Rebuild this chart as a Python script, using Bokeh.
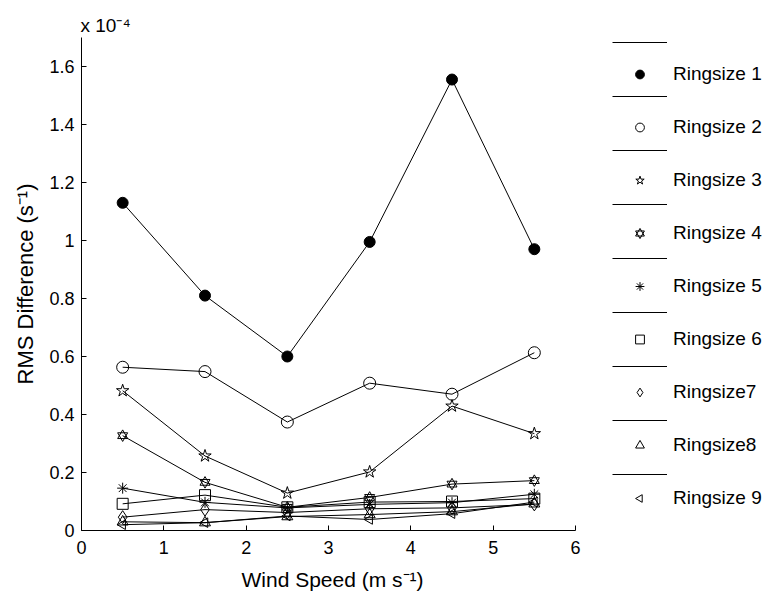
from bokeh.plotting import figure
from bokeh.models import Range1d, FixedTicker, Legend, LegendItem, Title, CustomJS
from bokeh.embed import file_html
from bokeh.resources import INLINE

# ---------------- data ----------------
wind_speed = [0.5, 1.5, 2.5, 3.5, 4.5, 5.5]

ringsize_1 = [1.130, 0.810, 0.600, 0.995, 1.555, 0.970]
ringsize_2 = [0.563, 0.548, 0.374, 0.508, 0.470, 0.613]
ringsize_3 = [0.482, 0.257, 0.129, 0.202, 0.429, 0.334]
ringsize_4 = [0.327, 0.166, 0.080, 0.114, 0.160, 0.172]
ringsize_5 = [0.146, 0.097, 0.078, 0.090, 0.096, 0.125]
ringsize_6 = [0.092, 0.122, 0.080, 0.098, 0.100, 0.110]
ringsize_7 = [0.046, 0.072, 0.062, 0.075, 0.078, 0.090]
ringsize_8 = [0.030, 0.027, 0.048, 0.055, 0.065, 0.092]
ringsize_9 = [0.020, 0.027, 0.050, 0.038, 0.058, 0.098]

series_labels = ["Ringsize 1", "Ringsize 2", "Ringsize 3", "Ringsize 4", "Ringsize 5",
                 "Ringsize 6", "Ringsize7", "Ringsize8", "Ringsize 9"]

x_ticks = [0, 1, 2, 3, 4, 5, 6]
y_ticks = [0, 0.2, 0.4, 0.6, 0.8, 1.0, 1.2, 1.4, 1.6]
y_tick_labels = ["0", "0.2", "0.4", "0.6", "0.8", "1", "1.2", "1.4", "1.6"]

x_label = "Wind Speed (m s\u207b\u00b9)"
y_label = "RMS Difference (s\u207b\u00b9)"
exponent_label = "x 10\u207b\u2074"

FONT = "Liberation Sans"

# x data spans 0..6; the frame is widened to the right to host the legend
X_MAX, Y_MAX = 6, 1.7
FW, FH = 688, 493
x_px = 494 / X_MAX

# ---------------- figure ----------------
p = figure(frame_width=FW, frame_height=FH,
           min_border_left=81, min_border_right=0, min_border_top=37, min_border_bottom=0,
           x_range=Range1d(0, FW / x_px), y_range=Range1d(0, Y_MAX),
           output_backend="svg", toolbar_location=None)
p.outline_line_color = None
p.grid.visible = False
p.background_fill_color = "white"
p.border_fill_color = "white"

for ax in (p.xaxis[0], p.yaxis[0]):
    ax.axis_line_color = "black"
    ax.axis_line_width = 1
    ax.major_tick_in = 5
    ax.major_tick_out = 0
    ax.minor_tick_line_color = None
    ax.major_tick_line_color = "black"
    ax.major_label_text_font = FONT
    ax.major_label_text_font_size = "18px"
    ax.major_label_text_color = "black"
    ax.axis_label_text_font = FONT
    ax.axis_label_text_font_style = "normal"
    ax.axis_label_text_color = "black"

p.xaxis.bounds = (0, X_MAX)
p.xaxis.ticker = FixedTicker(ticks=x_ticks)
p.yaxis.ticker = FixedTicker(ticks=y_ticks)
p.yaxis.major_label_overrides = {t: s for t, s in zip(y_ticks, y_tick_labels)}
p.xaxis.major_label_standoff = 10
p.yaxis.major_label_standoff = 7
p.yaxis.axis_label = y_label
p.yaxis.axis_label_text_font_size = "22px"
p.yaxis.axis_label_standoff = 8

# x-axis title placed under the 0..6 data span
p.add_layout(Title(text=x_label, align="left", offset=160, standoff=19,
                   text_font=FONT, text_font_size="21px", text_font_style="normal",
                   text_color="black"), "below")
# exponent note above the y axis
p.add_layout(Title(text=exponent_label, align="left", offset=-1, standoff=4,
                   text_font=FONT, text_font_size="19px", text_font_style="normal",
                   text_color="black"), "above")

left_triangle = CustomJS(code="""
export default (args, obj, {ctx, i, r, visuals}) => {
  const h = r * Math.sqrt(3) / 2
  ctx.beginPath()
  ctx.moveTo(-r, 0)
  ctx.lineTo(r / 2, -h)
  ctx.lineTo(r / 2, h)
  ctx.closePath()
  visuals.fill.apply(ctx, i)
  visuals.hatch.apply(ctx, i)
  visuals.line.apply(ctx, i)
}
""")

all_series = [ringsize_1, ringsize_2, ringsize_3, ringsize_4, ringsize_5,
              ringsize_6, ringsize_7, ringsize_8, ringsize_9]

line_renderers = []
marker_renderers = []
for i, ys in enumerate(all_series):
    lr = p.line(wind_speed, ys, line_color="black", line_width=1)
    line_renderers.append(lr)
    if i == 0:
        mr = [p.scatter(wind_speed, ys, marker="circle", size=11,
                        fill_color="black", line_color="black")]
    elif i == 1:
        mr = [p.scatter(wind_speed, ys, marker="circle", size=12,
                        fill_color=None, line_color="black")]
    elif i == 2:
        mr = [p.scatter(wind_speed, ys, marker="star", size=13,
                        fill_color=None, line_color="black")]
    elif i == 3:
        mr = [p.scatter(wind_speed, ys, marker="triangle", size=10,
                        fill_color=None, line_color="black"),
              p.scatter(wind_speed, ys, marker="inverted_triangle", size=10,
                        fill_color=None, line_color="black")]
    elif i == 4:
        mr = [p.scatter(wind_speed, ys, marker="asterisk", size=11,
                        fill_color=None, line_color="black")]
    elif i == 5:
        mr = [p.scatter(wind_speed, ys, marker="square", size=11,
                        fill_color=None, line_color="black")]
    elif i == 6:
        mr = [p.scatter(wind_speed, ys, marker="diamond", size=13,
                        fill_color=None, line_color="black")]
    elif i == 7:
        mr = [p.scatter(wind_speed, ys, marker="triangle", size=11,
                        fill_color=None, line_color="black")]
    else:
        mr = [p.scatter(wind_speed, ys, marker="@left_triangle", size=11,
                        defs={"@left_triangle": left_triangle},
                        fill_color=None, line_color="black")]
    marker_renderers.append(mr)


def make_legend(items, loc, spacing):
    lg = Legend(items=items, location=loc)
    lg.border_line_color = None
    lg.background_fill_alpha = 0
    lg.padding = 0
    lg.margin = 0
    lg.spacing = spacing
    lg.glyph_width = 55
    lg.glyph_height = 22
    lg.label_height = 20
    lg.label_standoff = 6
    lg.label_text_font = FONT
    lg.label_text_font_size = "19px"
    lg.label_text_color = "black"
    return lg


legend_lines = make_legend([LegendItem(label=" ", renderers=[lr]) for lr in line_renderers],
                           (531, 45), 32)
legend_marks = make_legend([LegendItem(label=lab, renderers=mr)
                            for lab, mr in zip(series_labels, marker_renderers)],
                           (531, 21), 31)
p.add_layout(legend_lines, "center")
p.add_layout(legend_marks, "center")

open("out.html", "w").write(file_html(p, INLINE))
